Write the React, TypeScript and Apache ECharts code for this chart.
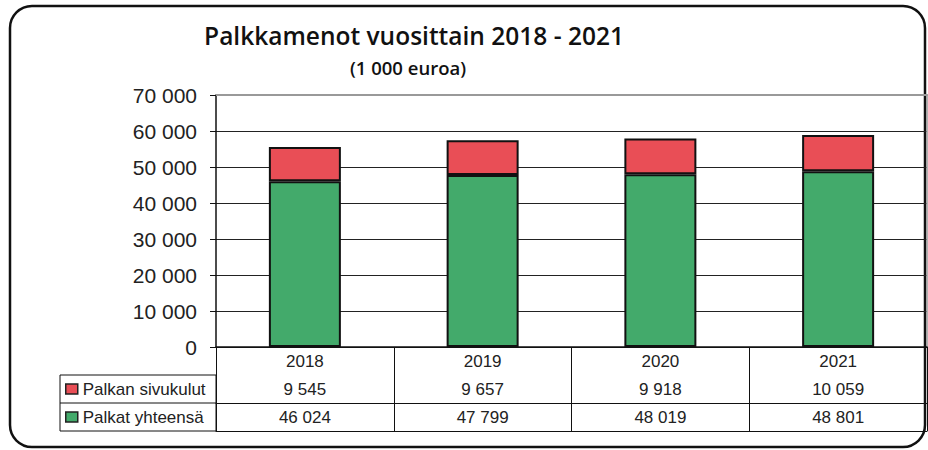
import React, { useEffect, useRef } from "react";
import * as echarts from "echarts";

const years = ["2018", "2019", "2020", "2021"];
const sivukulut = [9545, 9657, 9918, 10059];
const palkat = [46024, 47799, 48019, 48801];
const seriesNames = ["Palkan sivukulut", "Palkat yhteensä"];
const titleText = "Palkkamenot vuosittain 2018 - 2021";
const subtitleText = "(1 000 euroa)";

const fmt = (n: number) => String(n).replace(/\B(?=(\d{3})+(?!\d))/g, " ");

const FONT = "'Liberation Sans', Arial, sans-serif";
const GREEN = "#43aa6b";
const RED = "#e94e56";

export default function App() {
  const ref = useRef<HTMLDivElement>(null);
  useEffect(() => {
    if (!ref.current) return;
    const chart = echarts.init(ref.current, null, { renderer: "svg" });
    const hiddenAxis = {
      axisTick: { show: false },
      axisLabel: { show: false },
      splitLine: { show: false },
    };
    chart.setOption({
      animation: false,
      backgroundColor: "#fff",
      grid: { left: 216, right: 1, top: 95, bottom: 103, containLabel: false },
      legend: {
        data: seriesNames,
        orient: "vertical",
        left: 65,
        top: 375,
        padding: 0,
        itemGap: 0,
        itemWidth: 12,
        itemHeight: 10,
        icon: "rect",
        selectedMode: false,
        itemStyle: { borderColor: "#222", borderWidth: 1.5 },
        textStyle: { fontFamily: FONT, fontSize: 17, color: "#222", lineHeight: 28 },
      },
      xAxis: [
        {
          type: "category",
          data: years,
          position: "bottom",
          axisLine: { show: true, lineStyle: { color: "#111", width: 1.5 } },
          axisTick: { show: true, length: 84, interval: 0, lineStyle: { color: "#111", width: 1 } },
          axisLabel: { fontFamily: FONT, fontSize: 17, color: "#222", margin: 6 },
          splitLine: { show: false },
        },
        {
          type: "category",
          data: years,
          position: "bottom",
          offset: 28,
          axisLine: { show: true, lineStyle: { color: "#111", width: 1 } },
          axisTick: { show: false },
          axisLabel: {
            fontFamily: FONT,
            fontSize: 17,
            color: "#222",
            margin: 6,
            formatter: (_v: string, i: number) => fmt(sivukulut[i]),
          },
          splitLine: { show: false },
        },
        {
          type: "category",
          data: years,
          position: "bottom",
          offset: 56,
          axisLine: { show: true, lineStyle: { color: "#111", width: 1 } },
          axisTick: { show: false },
          axisLabel: {
            fontFamily: FONT,
            fontSize: 17,
            color: "#222",
            margin: 6,
            formatter: (_v: string, i: number) => fmt(palkat[i]),
          },
          splitLine: { show: false },
        },
        {
          type: "category",
          data: years,
          position: "bottom",
          offset: 84,
          axisLine: { show: true, lineStyle: { color: "#111", width: 1 } },
          ...hiddenAxis,
        },
        {
          type: "category",
          data: years,
          position: "top",
          axisLine: { show: true, lineStyle: { color: "#999", width: 2 } },
          ...hiddenAxis,
        },
      ],
      yAxis: [
        {
          type: "value",
          min: 0,
          max: 70000,
          interval: 10000,
          axisLine: { show: true, lineStyle: { color: "#111", width: 1.5 } },
          axisTick: { show: true, length: 6, lineStyle: { color: "#111" } },
          axisLabel: {
            fontFamily: FONT,
            fontSize: 21,
            color: "#222",
            margin: 19,
            formatter: (v: number) => fmt(v),
          },
          splitLine: { show: true, lineStyle: { color: "#222", width: 1 } },
        },
        {
          type: "value",
          min: 0,
          max: 70000,
          interval: 10000,
          position: "right",
          axisLine: { show: true, lineStyle: { color: "#999", width: 1.5 } },
          ...hiddenAxis,
        },
      ],
      series: [
        {
          name: seriesNames[1],
          type: "bar",
          stack: "total",
          data: palkat,
          barWidth: 72,
          itemStyle: { color: GREEN, borderColor: "#111", borderWidth: 2 },
        },
        {
          name: seriesNames[0],
          type: "bar",
          stack: "total",
          data: sivukulut,
          barWidth: 72,
          itemStyle: { color: RED, borderColor: "#111", borderWidth: 2 },
        },
      ],
      graphic: [
        {
          type: "rect",
          shape: { x: 10, y: 6, width: 915, height: 441, r: 22 },
          style: { fill: "none", stroke: "#111", lineWidth: 2.5 },
          silent: true,
        },
        {
          type: "rect",
          shape: { x: 60, y: 375, width: 156, height: 56 },
          style: { fill: "none", stroke: "#111", lineWidth: 1 },
          silent: true,
        },
        {
          type: "line",
          shape: { x1: 60, y1: 403, x2: 216, y2: 403 },
          style: { stroke: "#111", lineWidth: 1 },
          silent: true,
        },
        {
          type: "text",
          x: 414,
          y: 35,
          style: {
            text: titleText,
            fontFamily: "'Open Sans', 'Noto Sans', sans-serif",
            fontSize: 24.5,
            fontWeight: 600,
            fill: "#111",
            align: "center",
            verticalAlign: "middle",
          },
        },
        {
          type: "text",
          x: 408,
          y: 67,
          style: {
            text: subtitleText,
            fontFamily: "'Open Sans', 'Noto Sans', sans-serif",
            fontSize: 18.5,
            fontWeight: 600,
            fill: "#111",
            align: "center",
            verticalAlign: "middle",
          },
        },
      ],
    });
    return () => chart.dispose();
  }, []);
  return (
    <div
      ref={ref}
      style={{ position: "fixed", left: 0, top: 0, width: 928, height: 450 }}
    />
  );
}
